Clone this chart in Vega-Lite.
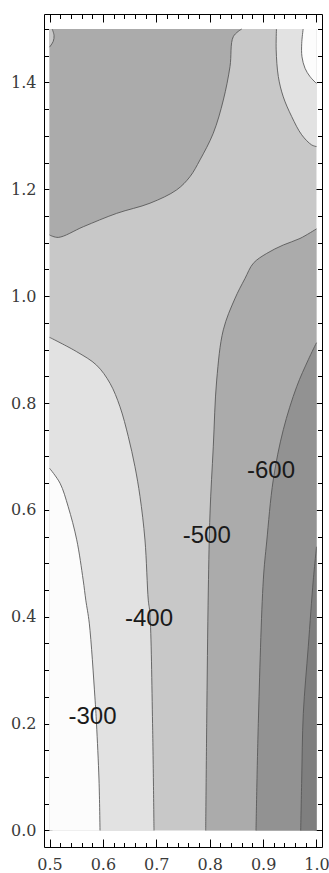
{
  "$schema": "https://vega.github.io/schema/vega-lite/v6.json",
  "width": 278,
  "height": 833,
  "autosize": {"type": "none"},
  "padding": {"left": 44, "top": 14, "right": 7, "bottom": 26},
  "background": "white",
  "config": {
    "view": {"stroke": "black", "strokeWidth": 1},
    "axis": {"grid": false, "domain": false, "tickColor": "black", "tickWidth": 1, "labelFont": "DejaVu Serif", "labelFontSize": 16, "labelColor": "#3a3a3a", "title": null, "zindex": 1}
  },
  "resolve": {"axis": {"x": "independent", "y": "independent"}},
  "datasets": {
    "extent": [{"x0": 0.5, "x1": 1.0, "y0": 0.0, "y1": 1.5}],
    "curves": [
      {"c": "C300L", "i": 0, "x": 0.5946, "y": 0.0},
      {"c": "C300L", "i": 1, "x": 0.5927, "y": 0.0945},
      {"c": "C300L", "i": 2, "x": 0.588, "y": 0.2},
      {"c": "C300L", "i": 3, "x": 0.585, "y": 0.25},
      {"c": "C300L", "i": 4, "x": 0.5745, "y": 0.388},
      {"c": "C300L", "i": 5, "x": 0.568, "y": 0.431},
      {"c": "C300L", "i": 6, "x": 0.563, "y": 0.469},
      {"c": "C300L", "i": 7, "x": 0.551, "y": 0.544},
      {"c": "C300L", "i": 8, "x": 0.535, "y": 0.606},
      {"c": "C300L", "i": 9, "x": 0.5197, "y": 0.65},
      {"c": "C300L", "i": 10, "x": 0.5, "y": 0.678},

      {"c": "C400L", "i": 0, "x": 0.6957, "y": 0.0},
      {"c": "C400L", "i": 1, "x": 0.693, "y": 0.2},
      {"c": "C400L", "i": 2, "x": 0.688, "y": 0.4065},
      {"c": "C400L", "i": 3, "x": 0.685, "y": 0.431},
      {"c": "C400L", "i": 4, "x": 0.6788, "y": 0.5437},
      {"c": "C400L", "i": 5, "x": 0.6695, "y": 0.625},
      {"c": "C400L", "i": 6, "x": 0.66, "y": 0.681},
      {"c": "C400L", "i": 7, "x": 0.6476, "y": 0.737},
      {"c": "C400L", "i": 8, "x": 0.632, "y": 0.793},
      {"c": "C400L", "i": 9, "x": 0.6133, "y": 0.837},
      {"c": "C400L", "i": 10, "x": 0.588, "y": 0.871},
      {"c": "C400L", "i": 11, "x": 0.551, "y": 0.896},
      {"c": "C400L", "i": 12, "x": 0.5, "y": 0.923},

      {"c": "C500L", "i": 0, "x": 0.7925, "y": 0.0},
      {"c": "C500L", "i": 1, "x": 0.7944, "y": 0.2},
      {"c": "C500L", "i": 2, "x": 0.7974, "y": 0.45},
      {"c": "C500L", "i": 3, "x": 0.8006, "y": 0.594},
      {"c": "C500L", "i": 4, "x": 0.8067, "y": 0.718},
      {"c": "C500L", "i": 5, "x": 0.8131, "y": 0.843},
      {"c": "C500L", "i": 6, "x": 0.8255, "y": 0.937},
      {"c": "C500L", "i": 7, "x": 0.847, "y": 0.995},
      {"c": "C500L", "i": 8, "x": 0.866, "y": 1.033},
      {"c": "C500L", "i": 9, "x": 0.8817, "y": 1.0616},
      {"c": "C500L", "i": 10, "x": 0.9067, "y": 1.08},
      {"c": "C500L", "i": 11, "x": 0.9378, "y": 1.0958},
      {"c": "C500L", "i": 12, "x": 0.9691, "y": 1.108},
      {"c": "C500L", "i": 13, "x": 1.0, "y": 1.126},

      {"c": "C600", "i": 0, "x": 0.8867, "y": 0.0},
      {"c": "C600", "i": 1, "x": 0.891, "y": 0.2},
      {"c": "C600", "i": 2, "x": 0.9004, "y": 0.469},
      {"c": "C600", "i": 3, "x": 0.9067, "y": 0.54},
      {"c": "C600", "i": 4, "x": 0.919, "y": 0.656},
      {"c": "C600", "i": 5, "x": 0.9378, "y": 0.75},
      {"c": "C600", "i": 6, "x": 0.9629, "y": 0.8306},
      {"c": "C600", "i": 7, "x": 0.9846, "y": 0.881},
      {"c": "C600", "i": 8, "x": 1.0, "y": 0.913},

      {"c": "C700", "i": 0, "x": 0.9704, "y": 0.0},
      {"c": "C700", "i": 1, "x": 0.9723, "y": 0.0945},
      {"c": "C700", "i": 2, "x": 0.9753, "y": 0.219},
      {"c": "C700", "i": 3, "x": 0.9846, "y": 0.344},
      {"c": "C700", "i": 4, "x": 0.994, "y": 0.469},
      {"c": "C700", "i": 5, "x": 1.0, "y": 0.531},

      {"c": "C500U", "i": 0, "x": 0.5, "y": 1.1145},
      {"c": "C500U", "i": 1, "x": 0.5165, "y": 1.11},
      {"c": "C500U", "i": 2, "x": 0.5633, "y": 1.13},
      {"c": "C500U", "i": 3, "x": 0.6258, "y": 1.155},
      {"c": "C500U", "i": 4, "x": 0.6882, "y": 1.174},
      {"c": "C500U", "i": 5, "x": 0.7382, "y": 1.199},
      {"c": "C500U", "i": 6, "x": 0.7631, "y": 1.2237},
      {"c": "C500U", "i": 7, "x": 0.7818, "y": 1.255},
      {"c": "C500U", "i": 8, "x": 0.8067, "y": 1.305},
      {"c": "C500U", "i": 9, "x": 0.8255, "y": 1.367},
      {"c": "C500U", "i": 10, "x": 0.838, "y": 1.4296},
      {"c": "C500U", "i": 11, "x": 0.8442, "y": 1.4857},
      {"c": "C500U", "i": 12, "x": 0.86, "y": 1.5},

      {"c": "C400U", "i": 0, "x": 1.0, "y": 1.28},
      {"c": "C400U", "i": 1, "x": 0.991, "y": 1.283},
      {"c": "C400U", "i": 2, "x": 0.9723, "y": 1.302},
      {"c": "C400U", "i": 3, "x": 0.9536, "y": 1.336},
      {"c": "C400U", "i": 4, "x": 0.9378, "y": 1.373},
      {"c": "C400U", "i": 5, "x": 0.9285, "y": 1.411},
      {"c": "C400U", "i": 6, "x": 0.9245, "y": 1.461},
      {"c": "C400U", "i": 7, "x": 0.925, "y": 1.5},

      {"c": "C300U", "i": 0, "x": 1.0, "y": 1.398},
      {"c": "C300U", "i": 1, "x": 0.9878, "y": 1.411},
      {"c": "C300U", "i": 2, "x": 0.9785, "y": 1.4265},
      {"c": "C300U", "i": 3, "x": 0.9728, "y": 1.448},
      {"c": "C300U", "i": 4, "x": 0.9723, "y": 1.473},
      {"c": "C300U", "i": 5, "x": 0.975, "y": 1.5},

      {"c": "CCorner", "i": 0, "x": 0.5, "y": 1.466},
      {"c": "CCorner", "i": 1, "x": 0.507, "y": 1.477},
      {"c": "CCorner", "i": 2, "x": 0.5085, "y": 1.488},
      {"c": "CCorner", "i": 3, "x": 0.505, "y": 1.5}
    ],
    "labels": [
      {"label": "-300", "x": 0.5805, "y": 0.2115},
      {"label": "-400", "x": 0.6863, "y": 0.3958},
      {"label": "-500", "x": 0.7944, "y": 0.551},
      {"label": "-600", "x": 0.9148, "y": 0.673}
    ]
  },
  "layer": [
    {
      "data": {"name": "extent"},
      "mark": {"type": "rect", "color": "#c8c8c8", "opacity": 1},
      "encoding": {
        "x": {"field": "x0", "type": "quantitative", "scale": {"domain": [0.4897, 1.0103], "nice": false, "zero": false},
              "axis": {"orient": "bottom", "values": [0.5, 0.6, 0.7, 0.8, 0.9, 1.0], "format": ".1f", "tickSize": -8, "labelPadding": 17}},
        "x2": {"field": "x1"},
        "y": {"field": "y0", "type": "quantitative", "scale": {"domain": [-0.0309, 1.5281], "nice": false, "zero": false},
              "axis": {"orient": "left", "values": [0.0, 0.2, 0.4, 0.6, 0.8, 1.0, 1.2, 1.4], "format": ".1f", "tickSize": -8, "labelPadding": 16}},
        "y2": {"field": "y1"}
      }
    },
    {
      "data": {"name": "curves"},
      "transform": [{"filter": "datum.c === 'C400L'"}],
      "mark": {"type": "area", "orient": "horizontal", "interpolate": "catmull-rom", "color": "#e2e2e2", "opacity": 1},
      "encoding": {
        "x": {"field": "x", "type": "quantitative",
              "axis": {"orient": "bottom", "values": [0.52, 0.54, 0.56, 0.58, 0.62, 0.64, 0.66, 0.68, 0.72, 0.74, 0.76, 0.78, 0.82, 0.84, 0.86, 0.88, 0.92, 0.94, 0.96, 0.98], "labels": false, "tickSize": -4.5}},
        "x2": {"datum": 0.5},
        "y": {"field": "y", "type": "quantitative",
              "axis": {"orient": "left", "values": [0.05, 0.1, 0.15, 0.25, 0.3, 0.35, 0.45, 0.5, 0.55, 0.65, 0.7, 0.75, 0.85, 0.9, 0.95, 1.05, 1.1, 1.15, 1.25, 1.3, 1.35, 1.45, 1.5], "labels": false, "tickSize": -4.5}}
      }
    },
    {
      "data": {"name": "curves"},
      "transform": [{"filter": "datum.c === 'C300L'"}],
      "mark": {"type": "area", "orient": "horizontal", "interpolate": "catmull-rom", "color": "#fcfcfc", "opacity": 1},
      "encoding": {
        "x": {"field": "x", "type": "quantitative",
              "axis": {"orient": "top", "values": [0.5, 0.6, 0.7, 0.8, 0.9, 1.0], "labels": false, "tickSize": -8}},
        "x2": {"datum": 0.5},
        "y": {"field": "y", "type": "quantitative",
              "axis": {"orient": "right", "values": [0.0, 0.2, 0.4, 0.6, 0.8, 1.0, 1.2, 1.4], "labels": false, "tickSize": -8}}
      }
    },
    {
      "data": {"name": "curves"},
      "transform": [{"filter": "datum.c === 'C500L'"}],
      "mark": {"type": "area", "orient": "horizontal", "interpolate": "catmull-rom", "color": "#ababab", "opacity": 1},
      "encoding": {
        "x": {"field": "x", "type": "quantitative",
              "axis": {"orient": "top", "values": [0.52, 0.54, 0.56, 0.58, 0.62, 0.64, 0.66, 0.68, 0.72, 0.74, 0.76, 0.78, 0.82, 0.84, 0.86, 0.88, 0.92, 0.94, 0.96, 0.98], "labels": false, "tickSize": -4.5}},
        "x2": {"datum": 1.0},
        "y": {"field": "y", "type": "quantitative",
              "axis": {"orient": "right", "values": [0.05, 0.1, 0.15, 0.25, 0.3, 0.35, 0.45, 0.5, 0.55, 0.65, 0.7, 0.75, 0.85, 0.9, 0.95, 1.05, 1.1, 1.15, 1.25, 1.3, 1.35, 1.45, 1.5], "labels": false, "tickSize": -4.5}}
      }
    },
    {
      "data": {"name": "curves"},
      "transform": [{"filter": "datum.c === 'C600'"}],
      "mark": {"type": "area", "orient": "horizontal", "interpolate": "catmull-rom", "color": "#929292", "opacity": 1},
      "encoding": {
        "x": {"field": "x", "type": "quantitative", "axis": null},
        "x2": {"datum": 1.0},
        "y": {"field": "y", "type": "quantitative", "axis": null}
      }
    },
    {
      "data": {"name": "curves"},
      "transform": [{"filter": "datum.c === 'C700'"}],
      "mark": {"type": "area", "orient": "horizontal", "interpolate": "catmull-rom", "color": "#7f7f7f", "opacity": 1},
      "encoding": {
        "x": {"field": "x", "type": "quantitative", "axis": null},
        "x2": {"datum": 1.0},
        "y": {"field": "y", "type": "quantitative", "axis": null}
      }
    },
    {
      "data": {"name": "curves"},
      "transform": [{"filter": "datum.c === 'C500U'"}],
      "mark": {"type": "area", "orient": "vertical", "interpolate": "catmull-rom", "color": "#ababab", "opacity": 1},
      "encoding": {
        "x": {"field": "x", "type": "quantitative", "axis": null},
        "y": {"field": "y", "type": "quantitative", "axis": null},
        "y2": {"datum": 1.5}
      }
    },
    {
      "data": {"name": "curves"},
      "transform": [{"filter": "datum.c === 'CCorner'"}],
      "mark": {"type": "area", "orient": "horizontal", "interpolate": "catmull-rom", "color": "#c8c8c8", "opacity": 1},
      "encoding": {
        "x": {"field": "x", "type": "quantitative", "axis": null},
        "x2": {"datum": 0.5},
        "y": {"field": "y", "type": "quantitative", "axis": null}
      }
    },
    {
      "data": {"name": "curves"},
      "transform": [{"filter": "datum.c === 'C400U'"}],
      "mark": {"type": "area", "orient": "horizontal", "interpolate": "catmull-rom", "color": "#e2e2e2", "opacity": 1},
      "encoding": {
        "x": {"field": "x", "type": "quantitative", "axis": null},
        "x2": {"datum": 1.0},
        "y": {"field": "y", "type": "quantitative", "axis": null}
      }
    },
    {
      "data": {"name": "curves"},
      "transform": [{"filter": "datum.c === 'C300U'"}],
      "mark": {"type": "area", "orient": "horizontal", "interpolate": "catmull-rom", "color": "#fcfcfc", "opacity": 1},
      "encoding": {
        "x": {"field": "x", "type": "quantitative", "axis": null},
        "x2": {"datum": 1.0},
        "y": {"field": "y", "type": "quantitative", "axis": null}
      }
    },
    {
      "data": {"name": "curves"},
      "mark": {"type": "line", "interpolate": "catmull-rom", "color": "#555555", "strokeWidth": 1, "opacity": 0.85},
      "encoding": {
        "x": {"field": "x", "type": "quantitative", "axis": null},
        "y": {"field": "y", "type": "quantitative", "axis": null},
        "detail": {"field": "c"},
        "order": {"field": "i", "type": "quantitative"}
      }
    },
    {
      "data": {"name": "labels"},
      "mark": {"type": "text", "font": "Liberation Sans", "fontSize": 24, "color": "#1a1a1a", "align": "center", "baseline": "middle"},
      "encoding": {
        "x": {"field": "x", "type": "quantitative", "axis": null},
        "y": {"field": "y", "type": "quantitative", "axis": null},
        "text": {"field": "label"}
      }
    }
  ]
}
